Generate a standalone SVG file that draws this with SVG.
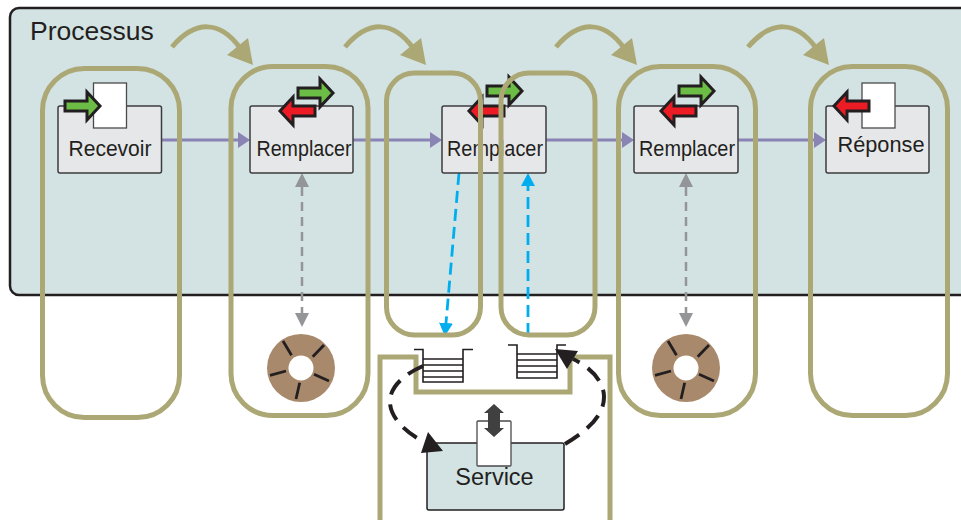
<svg xmlns="http://www.w3.org/2000/svg" xmlns:xlink="http://www.w3.org/1999/xlink" width="961" height="520" viewBox="0 0 961 520">
<style>
text{font-family:"Liberation Sans",Arial,sans-serif;fill:#231f20}
.box{fill:#e6e7e8;stroke:#3c3c3e;stroke-width:1.5}
.doc{fill:#fff;stroke:#4a4a4c;stroke-width:1.3}
.lbl{font-size:22.5px;text-anchor:middle}
.in{fill:#6cbd45;stroke:#231f20;stroke-width:3}
.out{fill:#ed1c24;stroke:#231f20;stroke-width:3}
.lane{fill:none;stroke:#aba875;stroke-width:5}
.flow{fill:none;stroke:#8a84b4;stroke-width:3}
.res{fill:none;stroke:#939598;stroke-width:2.5;stroke-dasharray:9 6}
.msg{fill:none;stroke:#00aeef;stroke-width:2.8;stroke-dasharray:12 6}
.q{fill:none;stroke:#231f20;stroke-width:1.3}
.loop{fill:none;stroke:#231f20;stroke-width:4;stroke-dasharray:17 10}
.spoke{stroke:#231f20;stroke-width:2.8}
.tan{fill:#aba875}
.lh{fill:#231f20}
</style>
<defs>
<marker id="mf" markerUnits="userSpaceOnUse" markerWidth="13" markerHeight="16" refX="0" refY="8" orient="auto"><path d="M0,0L12,8L0,16Z" fill="#8a84b4"/></marker>
<marker id="mr" markerUnits="userSpaceOnUse" markerWidth="15" markerHeight="16" refX="0" refY="8" orient="auto-start-reverse"><path d="M0,1L14,8L0,15Z" fill="#939598"/></marker>
<marker id="mb" markerUnits="userSpaceOnUse" markerWidth="15" markerHeight="16" refX="0" refY="8" orient="auto"><path d="M0,1L13,8L0,15Z" fill="#00aeef"/></marker>
<path id="ra" d="M0,-5V5H-22V14L-35,0L-22,-14V-5Z"/>
<path id="ga" d="M0,-5V5H22V14L35,0L22,-14V-5Z"/>
<g id="wheel"><circle r="34" fill="#a8896c"/><circle r="12.500" fill="#fff"/>
<path class="spoke" d="M-18,-27L-9.500,-12.700M23,-23L11.700,-11.300M-31,7.300L-15,3M28,13L13,6.300M-5,31L-1.300,14.700"/></g>
</defs>

<g id="panel"><rect x="10" y="8" width="970" height="287" rx="9" fill="#d3e3e3" stroke="#231f20" stroke-width="2.500"/><text x="30" y="40" font-size="26.500px">Processus</text></g>

<g id="connectors">
<path class="flow" marker-end="url(#mf)" d="M161,140H238"/>
<path class="flow" marker-end="url(#mf)" d="M353,140H430"/>
<path class="flow" marker-end="url(#mf)" d="M546,140H622"/>
<path class="flow" marker-end="url(#mf)" d="M738,140H814"/>
<path class="res" marker-start="url(#mr)" marker-end="url(#mr)" d="M302,187V313"/>
<path class="res" marker-start="url(#mr)" marker-end="url(#mr)" d="M686,187V313"/>
<path class="msg" marker-end="url(#mb)" d="M459,173L446,323"/>
<path class="msg" marker-end="url(#mb)" d="M528,335V186"/>
</g>

<g id="node-recevoir"><rect class="box" x="58" y="106" width="103.500" height="67" rx="2"/><rect class="doc" x="93.500" y="83" width="33" height="45"/><use href="#ga" class="in" transform="translate(65,106)"/><text class="lbl" x="110" y="156" textLength="83" lengthAdjust="spacingAndGlyphs">Recevoir</text></g>
<g id="node-remplacer-1"><rect class="box" x="250" y="106" width="103" height="67" rx="2"/><use href="#ga" class="in" transform="translate(298,93)"/><use href="#ra" class="out" transform="translate(315,111)"/><text class="lbl" x="304" y="156" textLength="95" lengthAdjust="spacingAndGlyphs">Remplacer</text></g>
<g id="node-remplacer-2"><rect class="box" x="442" y="106" width="104" height="67" rx="2"/><use href="#ga" class="in" transform="translate(487,91)"/><use href="#ra" class="out" transform="translate(504,111)"/><text class="lbl" x="495" y="156" textLength="96" lengthAdjust="spacingAndGlyphs">Remplacer</text></g>
<g id="node-remplacer-3"><rect class="box" x="634" y="106" width="104" height="67" rx="2"/><use href="#ga" class="in" transform="translate(679,91)"/><use href="#ra" class="out" transform="translate(696,111)"/><text class="lbl" x="687" y="156" textLength="96" lengthAdjust="spacingAndGlyphs">Remplacer</text></g>
<g id="node-reponse"><rect class="box" x="826" y="106" width="103" height="67" rx="2"/><rect class="doc" x="862" y="83" width="33" height="45"/><use href="#ra" class="out" transform="translate(869,106)"/><text class="lbl" x="881" y="151.500" textLength="87" lengthAdjust="spacingAndGlyphs">Réponse</text></g>

<g id="node-db-1"><use href="#wheel" transform="translate(301,368)"/></g>
<g id="node-db-2"><use href="#wheel" transform="translate(686,368)"/></g>

<g id="node-queue-1"><path class="q" style="stroke-width:1.6" d="M414,349.500H423V382H463V349.500H473"/><path class="q" d="M423,359H463M423,365H463M423,371H463M423,377H463"/></g>
<g id="node-queue-2"><path class="q" style="stroke-width:1.6" d="M508,345H517V378H557V345H566"/><path class="q" d="M517,354H557M517,360H557M517,366H557M517,372H557"/></g>

<g id="lanes">
<rect class="lane" x="42.500" y="68.500" width="137" height="349" rx="42"/>
<rect class="lane" x="231" y="66.500" width="137" height="349" rx="42"/>
<rect class="lane" x="386.500" y="73" width="94" height="262" rx="28"/>
<rect class="lane" x="501" y="73" width="94" height="262" rx="28"/>
<rect class="lane" x="618.500" y="66.500" width="137" height="349" rx="42"/>
<rect class="lane" x="810.500" y="66.500" width="137" height="349" rx="42"/>
<path class="lane" d="M380,525V357H416V392H570V357H610V525"/>
</g>

<g id="node-service"><rect x="427" y="443" width="137" height="67" rx="2" fill="#d3e3e3" stroke="#231f20" stroke-width="1.500"/><rect class="doc" x="477" y="421" width="34" height="45" rx="1"/><path fill="#404040" d="M494,404L504,413H500V428H504L494,437L484,428H488V413H484Z"/><text x="494.500" y="485" font-size="23.500px" text-anchor="middle">Service</text></g>

<g id="loops">
<path class="loop" d="M565,444C585,432 604,417 604,397C604,381 590,367 573,359"/>
<path class="lh" d="M555,349L578,351L567,369Z"/>
<path class="loop" d="M423,366C400,376 389,390 390,403C391,420 410,436 427,443"/>
<path class="lh" d="M443,451L428,432L421,453Z"/>
</g>

<g id="sequence">
<g id="seq-1"><path class="lane" d="M172,47C195,20 220,20 240,48"/><path class="tan" d="M253,65L248,38L227,55Z"/></g>
<g id="seq-2"><path class="lane" d="M345,47C368,20 393,20 413,48"/><path class="tan" d="M426,65L421,38L400,55Z"/></g>
<g id="seq-3"><path class="lane" d="M556,47C579,20 604,20 624,48"/><path class="tan" d="M637,65L632,38L611,55Z"/></g>
<g id="seq-4"><path class="lane" d="M748,47C771,20 796,20 816,48"/><path class="tan" d="M829,65L824,38L803,55Z"/></g>
</g>
</svg>
